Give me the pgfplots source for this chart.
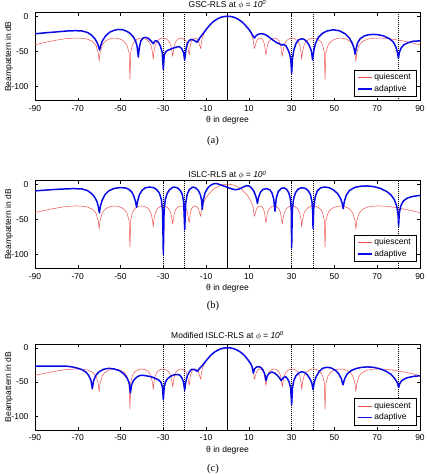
\documentclass[border=0pt]{standalone}
\usepackage{fontspec}
\setmainfont{Liberation Sans}
\newfontfamily\capfont{Liberation Serif}
\usepackage{pgfplots}
\usepackage{pgfplotstable}
\pgfplotsset{compat=1.18}
\definecolor{qred}{RGB}{238,80,80}
\definecolor{ablue}{RGB}{10,10,230}

\pgfplotstableread{
x y
-90 -40.5
-86.5 -38
-83 -35.8
-80 -34
-77 -32.5
-74 -31.5
-71 -31
-68.5 -31.2
-65.5 -32.5
-63 -36
-61.4 -42
-60.45 -52
-60 -64
-59.57 -51.6
-58.56 -41.2
-57.55 -36.7
-56.4 -34
-54.6 -31.7
-52.8 -31
-51 -31.7
-49.2 -34
-48.05 -36.7
-47.04 -41.2
-46.03 -51.6
-45.6 -90
-45.27 -51.6
-44.51 -41.2
-43.75 -36.7
-42.88 -34
-41.51 -31.7
-40.15 -31
-38.79 -31.7
-37.43 -34
-36.55 -36.7
-35.79 -41.2
-35.03 -51.6
-34.7 -61
-34.43 -51.6
-33.79 -41.2
-33.15 -36.7
-32.43 -34
-31.29 -31.7
-30.15 -31
-29.01 -31.7
-27.88 -34
-27.15 -36.7
-26.51 -41.2
-25.87 -51.6
-25.6 -57
-25.37 -51.6
-24.83 -41.2
-24.29 -36.7
-23.68 -34
-22.71 -31.7
-21.75 -31
-20.79 -31.7
-19.83 -34
-19.21 -36.7
-18.67 -41.2
-18.13 -51.6
-17.9 -55
-17.74 -51.6
-17.36 -41.2
-16.98 -36.7
-16.55 -34
-15.88 -31.7
-15.2 -31
-14.53 -31.7
-13.85 -34
-13.42 -36.7
-13.04 -41.2
-12.5 -46
-12.2 -37
-11.8 -31
-11 -24.5
-10 -19
-9 -15
-8 -11.5
-7 -8.6
-6 -6.2
-5 -4.2
-4 -2.6
-3 -1.45
-2 -0.65
-1 -0.16
0 0
1 -0.16
2 -0.65
3 -1.45
4 -2.6
5 -4.2
6 -6.2
7 -8.6
8 -11.5
9 -15
10 -19
11 -24.5
11.8 -31
12.2 -37
12.5 -46
13.04 -41.2
13.42 -36.7
13.85 -34
14.53 -31.7
15.2 -31
15.88 -31.7
16.55 -34
16.98 -36.7
17.36 -41.2
17.74 -51.6
17.9 -55
18.13 -51.6
18.67 -41.2
19.21 -36.7
19.83 -34
20.79 -31.7
21.75 -31
22.71 -31.7
23.68 -34
24.29 -36.7
24.83 -41.2
25.37 -51.6
25.6 -57
25.87 -51.6
26.51 -41.2
27.15 -36.7
27.88 -34
29.01 -31.7
30.15 -31
31.29 -31.7
32.43 -34
33.15 -36.7
33.79 -41.2
34.43 -51.6
34.7 -61
35.03 -51.6
35.79 -41.2
36.55 -36.7
37.43 -34
38.79 -31.7
40.15 -31
41.51 -31.7
42.88 -34
43.75 -36.7
44.51 -41.2
45.27 -51.6
45.6 -90
46.03 -51.6
47.04 -41.2
48.05 -36.7
49.2 -34
51 -31.7
52.8 -31
54.6 -31.7
56.4 -34
57.55 -36.7
58.56 -41.2
59.57 -51.6
60 -64
60.45 -52
61.4 -42
63 -36
65.5 -32.5
68.5 -31.2
71 -31
74 -31.5
77 -32.5
80 -34
83 -35.8
86.5 -38
90 -40.5
}\quies

\pgfplotstableread{
x y
-90 -25
-85 -23.5
-80 -22.3
-75 -21
-71 -20.5
-68 -21
-65.5 -23
-63.5 -27
-62 -32
-61 -37
-60.3 -43
-59.8 -48
-59.3 -42
-58.5 -35
-57 -28
-55 -22.5
-53 -20
-51 -18.8
-49 -19.2
-47 -21.5
-45.5 -24.5
-44 -29.5
-43 -35
-42.3 -42
-41.7 -58
-41.2 -44
-40.5 -35
-39.5 -31
-38.3 -30
-37 -31.5
-35.8 -35
-34.7 -39
-34 -35.5
-33.2 -34.8
-32.3 -37
-31.3 -43
-30.5 -52
-30 -76
-29.6 -56
-29 -51
-28 -48.5
-26 -46
-24 -44
-22.8 -43
-21.5 -45.5
-20.6 -51
-20 -62
-19.5 -49
-19 -41
-18.2 -35.5
-17.2 -33
-16.2 -33.5
-15.2 -35
-14.2 -37
-13.5 -34
-13 -31
-12.4 -28.5
-11.5 -25
-11 -23
-10 -19
-9 -15.2
-8 -11.7
-7 -8.7
-6 -6.3
-5 -4.3
-4 -2.7
-3 -1.5
-2 -0.7
-1 -0.2
0 0
1 -0.2
2 -0.7
3 -1.5
4 -2.7
5 -4.3
6 -6.3
7 -8.7
8 -11.7
9 -15.2
10 -18.5
11 -23
11.8 -27.5
12.6 -31
13.3 -28
14.2 -25.8
15.5 -24.8
17 -25.3
18.5 -27.5
20 -31
21.5 -34.5
23 -37.5
24.5 -39.5
25.5 -41
26.3 -40
27.3 -42
28.2 -47
29 -53
29.6 -62
30 -81
30.4 -60
31 -48
32 -39
33.2 -33.5
34.7 -32
36 -33
37.3 -37
38.3 -42
39.2 -49
39.8 -62
40.4 -48
41.2 -38
42.5 -30
44.3 -24.5
46.5 -21
49.5 -19.3
52.5 -20.8
55 -25
57 -31
58.3 -38
59.2 -46
59.7 -54
60.2 -45
60.8 -38
62 -32
64 -28
66 -26.3
68.2 -25.8
70.5 -26.3
73 -28
75.5 -31.5
77.5 -36.5
78.8 -44
79.5 -52
79.9 -60
80.4 -51
81.2 -45
82.5 -40.5
84.5 -37.5
87 -35.5
90 -35
}\adaptA

\pgfplotstableread{
x y
-90 -9.5
-84 -8.2
-78 -7.0
-72 -6.3
-68 -6.8
-65.5 -9
-63.5 -13.5
-62 -19
-61 -25
-60.4 -32
-59.9 -41
-59.4 -31
-58.6 -23
-57.3 -15
-55.5 -9.5
-53 -6
-50 -4.8
-47.5 -5.5
-46 -7.5
-44.8 -11
-43.8 -17
-43 -25
-42.5 -33
-42 -24
-41.2 -15
-40 -9
-38.5 -5.2
-36.5 -4
-34.5 -5
-33 -8
-31.8 -13
-30.9 -22
-30.35 -38
-30 -100
-29.65 -38
-29.1 -22
-28.2 -13
-27 -7.5
-25.3 -4
-23.5 -5
-22.2 -8.5
-21.2 -14
-20.5 -25
-20 -65
-19.5 -26
-18.8 -14
-17.8 -7.5
-16.2 -4
-14.8 -5.5
-13.6 -9
-12.7 -15
-12.1 -23
-11.8 -36
-11.3 -22
-10.5 -12.5
-9.5 -6.5
-8 -1.8
-6.5 0.6
-5.5 1
-4.5 0.4
-3 -1.2
-1.5 -2.8
0 -4.5
1.5 -6.3
3 -7.5
4.2 -7.8
5.5 -6.8
7 -4.5
8.8 -2.2
10 -2.5
11 -4.5
12 -8.5
12.8 -13.5
13.5 -20
14 -27.5
14.5 -19
15.3 -12
16.5 -7.5
18.3 -6.3
19.8 -8
20.8 -12.5
21.6 -21
22.2 -38.5
22.8 -20
23.7 -10.5
25.2 -5.8
26.5 -5.3
27.7 -7.5
28.7 -12.5
29.4 -21
29.8 -35
30 -91
30.3 -37
30.9 -21
31.8 -12
33 -7
34.7 -5
36.5 -6
37.8 -9.5
38.8 -15
39.5 -25
39.85 -40
40 -63
40.3 -35
41 -18
42 -9.5
43.5 -5.2
45.5 -4
47.5 -5
49.5 -8
51.5 -13.5
52.8 -20
53.6 -27
54.1 -35
54.6 -25
55.5 -16
57 -9
59.5 -4.5
62.5 -2.8
65.5 -2.5
68.5 -3.5
71.5 -6
74.5 -10.5
76.5 -15.5
78 -22
79.2 -32
79.8 -45
80 -60
80.3 -42
81 -31
82.2 -24
84 -20
86.5 -17.5
90 -16
}\adaptB

\pgfplotstableread{
x y
-90 -27
-80 -27
-75 -27
-73 -27.8
-70.5 -29.5
-68 -32
-66 -36
-64.8 -41
-63.8 -48
-63.2 -60
-62.6 -48
-61.5 -40
-60 -35
-58 -31.5
-55.5 -30
-53 -31
-50.5 -33.5
-48.5 -38
-47 -44
-46 -51
-45.4 -66
-44.8 -54
-44 -48
-42.5 -43
-41 -40.5
-39 -40.5
-37 -41.5
-35 -43
-33.5 -45
-32 -47.5
-31 -51
-30.4 -58
-30 -76
-29.6 -58
-29 -50
-28 -45
-26.5 -41.5
-25 -39.5
-23.5 -39
-22.3 -40
-21.3 -44
-20.6 -50
-20 -62
-19.5 -50
-18.8 -41
-17.8 -35
-16.8 -31.5
-15.8 -31.5
-14.8 -33
-14.1 -34.5
-13.5 -32
-13 -30
-12.4 -28
-11.5 -25
-11 -23
-10 -19
-9 -15.2
-8 -11.7
-7 -8.7
-6 -6.3
-5 -4.3
-4 -2.7
-3 -1.5
-2 -0.7
-1 -0.2
0 0
1 -0.2
2 -0.7
3 -1.5
4 -2.7
5 -4.3
6 -6.3
7 -8.7
8 -11.7
9 -15.4
10 -19.5
11 -24
11.6 -29
12.1 -37
12.6 -31
13.4 -28.5
14.4 -27.5
15.5 -28.5
16.5 -32
17.4 -38
18 -48
18.6 -41
19.6 -37
20.7 -35.5
22 -37
23.2 -40
24.3 -44
25.1 -48
25.7 -45
26.5 -43
27.3 -42.5
28 -45
28.8 -50
29.5 -58
30 -83
30.4 -58
31 -48
32 -41
33.3 -37
34.7 -35
36 -36
37.3 -39.5
38.5 -45
39.4 -51
40 -61
40.6 -50
41.5 -42
42.8 -35
44.5 -30
46.5 -28.5
48.5 -29.5
50.5 -33
52 -38
53.2 -45
54 -54
54.8 -45
56 -38
58 -33
60.5 -30
63 -28.5
65.5 -28
68 -28.5
71 -30.5
74 -34
76.5 -39
78.2 -45
79.4 -51
80 -58
80.6 -52
81.5 -48
83 -45
85 -43
87.5 -41.5
90 -41
}\adaptC

\pgfplotsset{
  every axis title/.style={at={(0.5,1)}, anchor=base, font=\fontsize{8.5}{10}\selectfont},
  bp/.style={
    scale only axis, width=385pt,
    xmin=-90, xmax=90, ymin=-120, ymax=5,
    xtick={-90,-70,-50,-30,-10,10,30,50,70,90},
    xticklabels={-90,-70,-50,-30,-10,10,30,50,70,90},
    ytick={-100,-50,0}, yticklabels={-100,-50,0},
    tick align=inside, major tick length=3pt,
    tick style={black, line width=0.4pt},
    axis line style={black, line width=0.5pt},
    tick label style={font=\fontsize{8.5}{10}\selectfont},
    xticklabel style={yshift=-1.5pt},
    yticklabel style={xshift=-3pt},
    label style={font=\fontsize{8.5}{10}\selectfont},
    xlabel={θ in degree},
    ylabel={Beampattern in dB},
    xlabel style={at={(axis description cs:0.5,0)}, anchor=center, yshift=-20pt},
    ylabel style={at={(axis description cs:-0.0675,0.5)}, anchor=center},
    legend style={draw=black, line width=0.4pt, font=\fontsize{8.5}{10}\selectfont,
      inner xsep=3pt, inner ysep=1.5pt, row sep=0pt, cells={anchor=west}},
    legend image code/.code={\draw[#1] (0pt,0pt) -- (14pt,0pt);},
  },
  vl/.style={black, line width=0.6pt, dash pattern=on 1pt off 1pt, forget plot},
  ql/.style={qred, line width=0.5pt, line join=round},
  al/.style={ablue, line width=1.5pt, line join=round},
}

\newcommand{\vlines}{%
  \addplot[vl] coordinates {(-30,-120) (-30,5)};
  \addplot[vl] coordinates {(-20,-120) (-20,5)};
  \addplot[vl] coordinates {(30,-120) (30,5)};
  \addplot[vl] coordinates {(40,-120) (40,5)};
  \addplot[vl] coordinates {(80,-120) (80,5)};
  \addplot[black, line width=0.8pt, forget plot] coordinates {(0,-120) (0,5)};
}

\begin{document}
\begin{tikzpicture}
\useasboundingbox (0,0) rectangle (426pt,474pt);

\begin{axis}[bp, at={(35pt,373.3pt)}, anchor=south west, height=88pt,
  title={GSC-RLS at $\phi$ {\itshape = 10\textsuperscript{0}}},
  title style={yshift=5.2pt},
  legend style={at={(0.9896,0.045)}, anchor=south east}]
\vlines
\addplot[ql] table {\quies};
\addlegendentry{quiescent}
\addplot[al] table {\adaptA};
\addlegendentry{adaptive}
\end{axis}

\begin{axis}[bp, at={(35pt,205.7pt)}, anchor=south west, height=87.6pt,
  title={ISLC-RLS at $\phi$ {\itshape = 10\textsuperscript{0}}},
  title style={yshift=2.7pt},
  legend style={at={(0.9896,0.075)}, anchor=south east}]
\vlines
\addplot[ql] table {\quies};
\addlegendentry{quiescent}
\addplot[al] table {\adaptB};
\addlegendentry{adaptive}
\end{axis}

\begin{axis}[bp, at={(35pt,44pt)}, anchor=south west, height=85.7pt,
  title={Modified ISLC-RLS at $\phi$ {\itshape = 10\textsuperscript{0}}},
  title style={yshift=6.3pt},
  legend style={at={(0.9896,0.058)}, anchor=south east}]
\vlines
\addplot[ql] table {\quies};
\addlegendentry{quiescent}
\addplot[al] table {\adaptC};
\addlegendentry{adaptive}
\end{axis}

\node[font=\capfont\fontsize{10.5}{12}\selectfont] at (213pt,333pt) {(a)};
\node[font=\capfont\fontsize{10.5}{12}\selectfont] at (213pt,168pt) {(b)};
\node[font=\capfont\fontsize{10.5}{12}\selectfont] at (213pt,5.5pt) {(c)};
\end{tikzpicture}
\end{document}
